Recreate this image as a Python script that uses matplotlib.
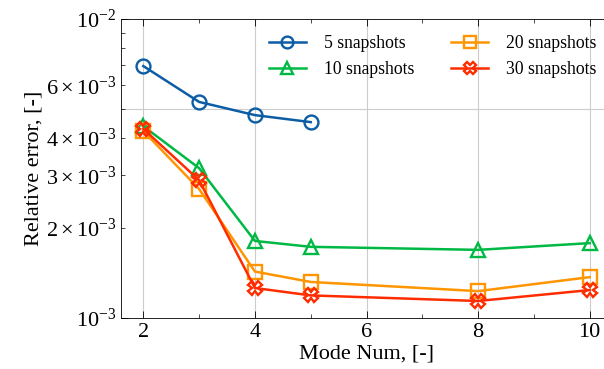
import numpy as np
import matplotlib.pyplot as plt

plt.rcParams['font.family'] = ['Liberation Serif', 'DejaVu Serif']
plt.rcParams['mathtext.fontset'] = 'stix'

modes_5 = [2, 3, 4, 5]
err_5 = [6.96e-3, 5.28e-3, 4.77e-3, 4.52e-3]

modes = [2, 3, 4, 5, 8, 10]
err_10 = [4.38e-3, 3.17e-3, 1.81e-3, 1.73e-3, 1.69e-3, 1.78e-3]
err_20 = [4.22e-3, 2.70e-3, 1.43e-3, 1.32e-3, 1.23e-3, 1.37e-3]
err_30 = [4.29e-3, 2.89e-3, 1.26e-3, 1.19e-3, 1.14e-3, 1.24e-3]

labels = ['5 snapshots', '10 snapshots', '20 snapshots', '30 snapshots']
colors = ['#0C5DA5', '#00B945', '#FF9500', '#FF2C00']

fig = plt.figure(figsize=(6.04, 3.69), dpi=100)
ax = fig.add_axes([121/604, 51/369, 491/604, 299/369])

ax.plot(modes_5, err_5, '-o', color=colors[0], lw=1.8, ms=10, mfc='none', mew=1.7, label=labels[0])
ax.plot(modes, err_10, '-^', color=colors[1], lw=1.8, ms=10, mfc='none', mew=1.7, label=labels[1])
ax.plot(modes, err_20, '-s', color=colors[2], lw=1.8, ms=10, mfc='none', mew=1.7, label=labels[2])
ax.plot(modes, err_30, '-X', color=colors[3], lw=1.8, ms=10, mfc='none', mew=1.7, label=labels[3])

ax.set_yscale('log')
ax.set_ylim(1e-3, 1e-2)
ax.set_xlim(1.6, 10.4)
ax.set_xticks([2, 4, 6, 8, 10])
ax.set_xticks([3, 5, 7, 9], minor=True)

ax.grid(True, which='major', axis='x', color='#cccccc', lw=0.8)
ax.axhline(5e-3, color='#cccccc', lw=0.8, zorder=0)
ax.set_axisbelow(True)

ax.tick_params(which='both', direction='in', top=True, right=True, labelsize=16)
ax.tick_params(which='major', length=5, width=0.6)
ax.tick_params(which='minor', length=3, width=0.5)
for s in ax.spines.values():
    s.set_linewidth(0.6)

ax.set_xlabel('Mode Num, [-]', fontsize=16, labelpad=2)
ax.set_ylabel('Relative error, [-]', fontsize=16, labelpad=2)

ax.legend(loc='upper right', bbox_to_anchor=(612/604, 1 - 19/369), bbox_transform=fig.transFigure,
          ncol=2, frameon=False, fontsize=12.7, handlelength=2.1, handletextpad=1.0,
          columnspacing=2.1, labelspacing=0.5, markerscale=0.85)

fig.savefig('out.png', dpi=100)
